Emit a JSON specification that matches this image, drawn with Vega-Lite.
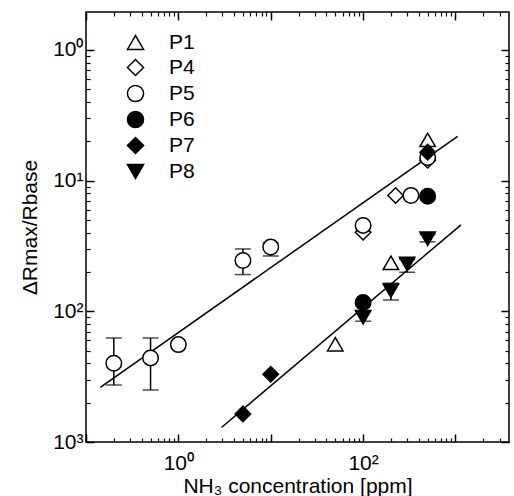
{
  "$schema": "https://vega.github.io/schema/vega-lite/v6.json",
  "width": 423,
  "height": 430,
  "autosize": {"type": "none"},
  "padding": {"left": 86, "top": 12, "right": 5, "bottom": 54},
  "background": "white",
  "config": {
    "view": {"stroke": "black", "strokeWidth": 1.5},
    "font": "Liberation Sans",
    "axis": {"grid": false, "domain": false, "labelColor": "black", "titleColor": "black", "labelFont": "Liberation Sans", "titleFont": "Liberation Sans", "titleFontWeight": "normal"}
  },
  "datasets": {
    "fits": [
      {"x": 0.143, "y": 0.00262, "g": "upper"},
      {"x": 1056, "y": 0.218, "g": "upper"},
      {"x": 2.93, "y": 0.00129, "g": "lower"},
      {"x": 1148, "y": 0.0459, "g": "lower"}
    ],
    "errs": [
      {"x": 0.2, "lo": 0.00273, "hi": 0.00625},
      {"x": 0.5, "lo": 0.0025, "hi": 0.00625},
      {"x": 5, "lo": 0.0191, "hi": 0.030},
      {"x": 10, "lo": 0.0265, "hi": 0.0335},
      {"x": 300, "lo": 0.0199, "hi": 0.0249},
      {"x": 200, "lo": 0.0122, "hi": 0.0164},
      {"x": 500, "lo": 0.034, "hi": 0.0387},
      {"x": 100, "lo": 0.0084, "hi": 0.0101}
    ],
    "pts": [
      {"s": "P1", "x": 50, "y": 0.0056},
      {"s": "P1", "x": 200, "y": 0.0235},
      {"s": "P1", "x": 500, "y": 0.205},
      {"s": "P4", "x": 100, "y": 0.0403},
      {"s": "P4", "x": 225, "y": 0.077},
      {"s": "P4", "x": 500, "y": 0.143},
      {"s": "P5", "x": 0.2, "y": 0.0040},
      {"s": "P5", "x": 0.5, "y": 0.0044},
      {"s": "P5", "x": 1, "y": 0.00556},
      {"s": "P5", "x": 5, "y": 0.0245},
      {"s": "P5", "x": 10, "y": 0.031},
      {"s": "P5", "x": 100, "y": 0.0454},
      {"s": "P5", "x": 330, "y": 0.077},
      {"s": "P5", "x": 500, "y": 0.15},
      {"s": "P6", "x": 100, "y": 0.0117},
      {"s": "P6", "x": 500, "y": 0.076},
      {"s": "P7", "x": 5, "y": 0.00164},
      {"s": "P7", "x": 10, "y": 0.0033},
      {"s": "P7", "x": 500, "y": 0.165},
      {"s": "P8", "x": 100, "y": 0.0090},
      {"s": "P8", "x": 200, "y": 0.0144},
      {"s": "P8", "x": 300, "y": 0.023},
      {"s": "P8", "x": 500, "y": 0.0359}
    ]
  },
  "layer": [
    {
      "data": {"name": "fits"},
      "mark": {"type": "line", "color": "black", "strokeWidth": 1.5},
      "encoding": {
        "x": {"field": "x", "type": "quantitative",
          "scale": {"type": "log", "domain": [0.1, 3800], "nice": false},
          "axis": {"orient": "bottom", "offset": -8, "values": [0.1, 1, 10, 100, 1000], "ticks": true, "tickSize": 8, "tickColor": "black", "tickWidth": 1.5, "labels": false, "title": null}},
        "y": {"field": "y", "type": "quantitative",
          "scale": {"type": "log", "domain": [0.001, 1.95], "nice": false},
          "axis": {"orient": "left", "offset": -8, "values": [0.001, 0.01, 0.1, 1], "ticks": true, "tickSize": 8, "tickColor": "black", "tickWidth": 1.5, "labels": false, "title": null}},
        "detail": {"field": "g"}
      }
    },
    {
      "data": {"name": "errs"},
      "mark": {"type": "rule", "color": "black", "strokeWidth": 1.5},
      "encoding": {
        "x": {"field": "x", "type": "quantitative",
          "axis": {"orient": "bottom", "offset": -4, "values": [0.2, 0.3, 0.4, 0.5, 0.6, 0.7, 0.8, 0.9, 2, 3, 4, 5, 6, 7, 8, 9, 20, 30, 40, 50, 60, 70, 80, 90, 200, 300, 400, 500, 600, 700, 800, 900, 2000, 3000], "ticks": true, "tickSize": 4, "tickColor": "black", "tickWidth": 1.2, "labels": false, "title": null}},
        "y": {"field": "lo", "type": "quantitative",
          "axis": {"orient": "left", "offset": -4, "values": [0.002, 0.003, 0.004, 0.005, 0.006, 0.007, 0.008, 0.009, 0.02, 0.03, 0.04, 0.05, 0.06, 0.07, 0.08, 0.09, 0.2, 0.3, 0.4, 0.5, 0.6, 0.7, 0.8, 0.9], "ticks": true, "tickSize": 4, "tickColor": "black", "tickWidth": 1.2, "labels": false, "title": null}},
        "y2": {"field": "hi"}
      }
    },
    {
      "data": {"name": "errs"},
      "mark": {"type": "tick", "orient": "horizontal", "color": "black", "size": 16, "thickness": 1.5},
      "encoding": {
        "x": {"field": "x", "type": "quantitative",
          "axis": {"orient": "top", "offset": -8, "values": [0.1, 1, 10, 100, 1000], "ticks": true, "tickSize": 8, "tickColor": "black", "tickWidth": 1.5, "labels": false, "title": null}},
        "y": {"field": "lo", "type": "quantitative",
          "axis": {"orient": "right", "offset": -8, "values": [0.001, 0.01, 0.1, 1], "ticks": true, "tickSize": 8, "tickColor": "black", "tickWidth": 1.5, "labels": false, "title": null}}
      }
    },
    {
      "data": {"name": "errs"},
      "mark": {"type": "tick", "orient": "horizontal", "color": "black", "size": 16, "thickness": 1.5},
      "encoding": {
        "x": {"field": "x", "type": "quantitative",
          "axis": {"orient": "top", "offset": -4, "values": [0.2, 0.3, 0.4, 0.5, 0.6, 0.7, 0.8, 0.9, 2, 3, 4, 5, 6, 7, 8, 9, 20, 30, 40, 50, 60, 70, 80, 90, 200, 300, 400, 500, 600, 700, 800, 900, 2000, 3000], "ticks": true, "tickSize": 4, "tickColor": "black", "tickWidth": 1.2, "labels": false, "title": null}},
        "y": {"field": "hi", "type": "quantitative",
          "axis": {"orient": "right", "offset": -4, "values": [0.002, 0.003, 0.004, 0.005, 0.006, 0.007, 0.008, 0.009, 0.02, 0.03, 0.04, 0.05, 0.06, 0.07, 0.08, 0.09, 0.2, 0.3, 0.4, 0.5, 0.6, 0.7, 0.8, 0.9], "ticks": true, "tickSize": 4, "tickColor": "black", "tickWidth": 1.2, "labels": false, "title": null}}
      }
    },
    {
      "data": {"name": "pts"},
      "mark": {"type": "point", "filled": true, "stroke": "black", "strokeWidth": 1.5, "opacity": 1, "fillOpacity": 1, "strokeOpacity": 1},
      "encoding": {
        "x": {"field": "x", "type": "quantitative",
          "axis": {"orient": "bottom", "values": [1, 100], "ticks": false, "labelPadding": 10, "labelFontSize": 21, "labelExpr": "datum.value == 1 ? '10⁰' : '10²'", "title": "NH₃ concentration [ppm]", "titleFontSize": 21, "titlePadding": 2}},
        "y": {"field": "y", "type": "quantitative",
          "axis": {"orient": "left", "values": [0.001, 0.01, 0.1, 1], "ticks": false, "labelPadding": 3, "labelFontSize": 21, "labelExpr": "datum.value == 1 ? '10⁰' : (datum.value == 0.1 ? '10¹' : (datum.value == 0.01 ? '10²' : '10³'))", "title": "ΔRmax/Rbase", "titleFontSize": 21, "titlePadding": 12}},
        "shape": {"field": "s", "type": "nominal",
          "scale": {"domain": ["P1", "P4", "P5", "P6", "P7", "P8"], "range": ["triangle-up", "diamond", "circle", "circle", "diamond", "triangle-down"]},
          "legend": {"title": null, "orient": "none", "legendX": 39, "legendY": 20, "padding": 0, "symbolSize": 260, "symbolStrokeWidth": 1.5, "labelFontSize": 21, "labelFont": "Liberation Sans", "labelColor": "black", "labelOffset": 23, "rowPadding": 3}},
        "fill": {"field": "s", "type": "nominal",
          "scale": {"domain": ["P1", "P4", "P5", "P6", "P7", "P8"], "range": ["white", "white", "white", "black", "black", "black"]},
          "legend": {"title": null, "orient": "none", "legendX": 39, "legendY": 20, "padding": 0, "symbolSize": 260, "symbolStrokeWidth": 1.5, "labelFontSize": 21, "labelFont": "Liberation Sans", "labelColor": "black", "labelOffset": 23, "rowPadding": 3}},
        "size": {"value": 240}
      }
    }
  ],
  "resolve": {"axis": {"x": "independent", "y": "independent"}}
}
